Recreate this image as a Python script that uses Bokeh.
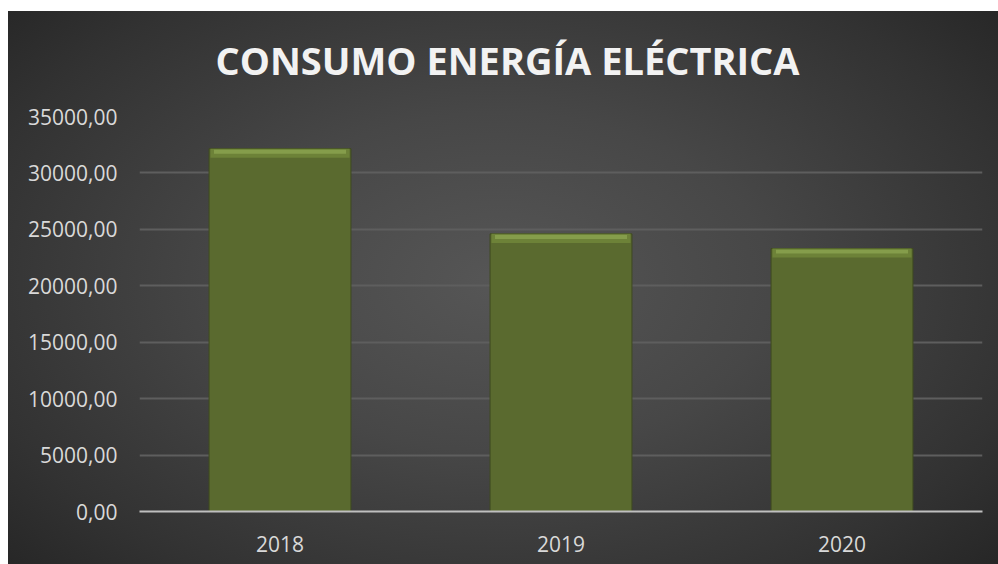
from bokeh.plotting import figure
from bokeh.models import FactorRange, Range1d, FixedTicker
from bokeh.embed import file_html
from bokeh.resources import INLINE

# ---- data ----
years = ["2018", "2019", "2020"]
consumo = [32150, 24600, 23300]
y_ticks = [0, 5000, 10000, 15000, 20000, 25000, 30000, 35000]
y_tick_labels = ["0,00", "5000,00", "10000,00", "15000,00", "20000,00",
                 "25000,00", "30000,00", "35000,00"]
title_text = "CONSUMO ENERGÍA ELÉCTRICA"

W, H = 998, 564
p = figure(width=W, height=H, x_range=FactorRange(*years), y_range=Range1d(0, 35000),
           output_backend="svg", toolbar_location=None,
           min_border_left=139, min_border_right=16, min_border_top=116, min_border_bottom=53)

p.styles = {
    "background": "linear-gradient(#ffffff,#ffffff) 0 0/100% 11px no-repeat, "
                  "linear-gradient(#ffffff,#ffffff) 0 0/8px 100% no-repeat, "
                  "radial-gradient(ellipse 68% 75% at 50% 50%, #565656 0%, #474747 40%, #323232 80%, #262626 100%)"
}
p.background_fill_alpha = 0
p.border_fill_alpha = 0
p.outline_line_color = None

# title
p.title.text = title_text
p.title.align = "left"
p.title.text_font = "Open Sans"
p.title.text_font_style = "bold"
p.title.text_font_size = "38px"
p.title.text_color = "#f2f2f2"
p.title.standoff = 61
p.title.offset = 76

# bars
p.vbar(x=years, top=consumo, width=0.505, fill_color="#5a6a2f", line_color="#3f4a20", line_width=1)
# bevel highlight at top of each bar
p.vbar(x=years, top=consumo, bottom=[v - 800 for v in consumo], width=0.495,
       fill_color="#6d8238", line_color=None)
p.vbar(x=years, top=[v - 100 for v in consumo], bottom=[v - 450 for v in consumo], width=0.47,
       fill_color="#8aa24f", line_color=None, fill_alpha=0.85)

# grid
p.xgrid.grid_line_color = None
p.ygrid.grid_line_color = "#5e5e5e"
p.ygrid.grid_line_width = 2
p.ygrid.level = "underlay"

# y axis
p.yaxis.ticker = FixedTicker(ticks=y_ticks)
p.yaxis.major_label_overrides = {t: l for t, l in zip(y_ticks, y_tick_labels)}
p.yaxis.axis_line_color = None
p.yaxis.major_tick_line_color = None
p.yaxis.minor_tick_line_color = None
p.yaxis.major_label_text_font = "Open Sans"
p.yaxis.major_label_text_font_size = "21px"
p.yaxis.major_label_text_color = "#d9d9d9"
p.yaxis.major_label_standoff = 16

# x axis
p.xaxis.axis_line_color = "#bfbfbf"
p.xaxis.axis_line_width = 2
p.xaxis.major_tick_line_color = None
p.xaxis.minor_tick_line_color = None
p.xaxis.major_label_text_font = "Open Sans"
p.xaxis.major_label_text_font_size = "21px"
p.xaxis.major_label_text_color = "#d9d9d9"
p.xaxis.major_label_standoff = 18

open("out.html", "w").write(file_html(p, INLINE))
